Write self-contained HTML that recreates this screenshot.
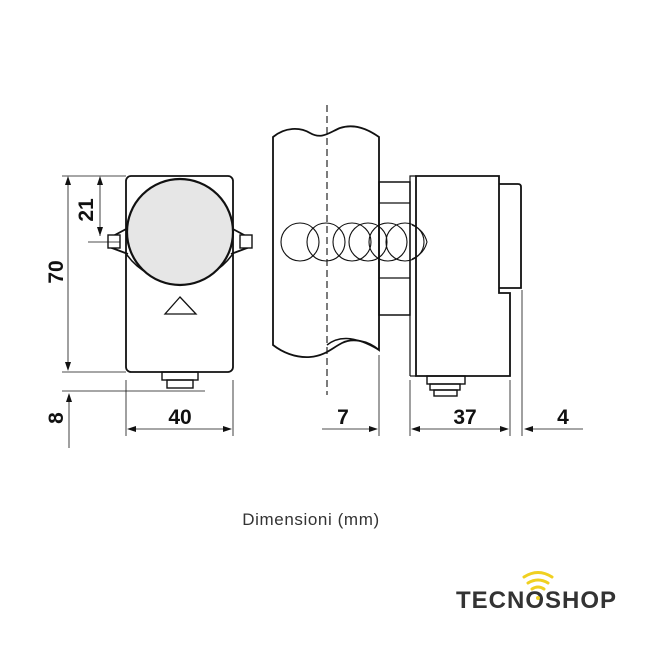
<!DOCTYPE html>
<html><head><meta charset="utf-8"><style>
html,body{margin:0;padding:0;background:#fff;}
svg{display:block}
</style></head><body>
<svg width="650" height="650" viewBox="0 0 650 650" xmlns="http://www.w3.org/2000/svg" font-family="Liberation Sans, sans-serif">
<g fill="none" stroke="#111" stroke-width="1.8">
  <rect x="126" y="176" width="107" height="196" rx="5" fill="#fff"/>
  <path d="M128 228 L115 235 L112 248 L128 254"/>
  <path d="M231 228 L244 235 L247 248 L231 254"/>
  <rect x="108" y="235" width="12" height="13" stroke-width="1.4" fill="#fff"/>
  <rect x="240" y="235" width="12" height="13" stroke-width="1.4" fill="#fff"/>
  <path d="M127 255 A65 65 0 0 0 232 255" stroke-width="1.5"/>
  <circle cx="180" cy="232" r="53" fill="#e6e6e6" stroke-width="2.2"/>
  <polygon points="180,297 165,314 196,314" stroke-width="1.3" fill="#fff"/>
  <rect x="162" y="372" width="36" height="8" stroke-width="1.4"/>
  <rect x="167" y="380" width="26" height="8" stroke-width="1.4"/>
</g>
<g fill="none" stroke="#111" stroke-width="0.8">
  <line x1="62" y1="176" x2="126" y2="176"/>
  <line x1="88" y1="242" x2="120" y2="242"/>
  <line x1="62" y1="372" x2="126" y2="372"/>
  <line x1="62" y1="391" x2="205" y2="391"/>
  <line x1="126" y1="380" x2="126" y2="436"/>
  <line x1="233" y1="380" x2="233" y2="436"/>
  <line x1="68" y1="182" x2="68" y2="366"/>
  <line x1="100" y1="182" x2="100" y2="236"/>
  <line x1="69" y1="399" x2="69" y2="448"/>
  <line x1="132" y1="429" x2="227" y2="429"/>
  <line x1="379" y1="355" x2="379" y2="436"/>
  <line x1="410" y1="380" x2="410" y2="436"/>
  <line x1="510" y1="380" x2="510" y2="436"/>
  <line x1="522" y1="290" x2="522" y2="436"/>
  <line x1="322" y1="429" x2="372" y2="429"/>
  <line x1="416" y1="429" x2="504" y2="429"/>
  <line x1="530" y1="429" x2="583" y2="429"/>
</g>
<g fill="#111">
  <polygon points="68,176 65,185 71,185"/>
  <polygon points="68,371 65,362 71,362"/>
  <polygon points="100,176 97,185 103,185"/>
  <polygon points="100,236 97,227 103,227"/>
  <polygon points="69,393 66,402 72,402"/>
  <polygon points="127,429 136,426 136,432"/>
  <polygon points="232,429 223,426 223,432"/>
  <polygon points="378,429 369,426 369,432"/>
  <polygon points="411,429 420,426 420,432"/>
  <polygon points="509,429 500,426 500,432"/>
  <polygon points="524,429 533,426 533,432"/>
</g>
<g fill="#111" font-weight="bold" font-size="21">
  <text x="180" y="424" text-anchor="middle">40</text>
  <text x="343" y="424" text-anchor="middle">7</text>
  <text x="465" y="424" text-anchor="middle">37</text>
  <text x="563" y="424" text-anchor="middle">4</text>
  <text transform="translate(63,272) rotate(-90)" text-anchor="middle">70</text>
  <text transform="translate(93,210) rotate(-90)" text-anchor="middle">21</text>
  <text transform="translate(63,418) rotate(-90)" text-anchor="middle">8</text>
</g>
<g fill="none" stroke="#111" stroke-width="1.8">
  <path d="M273 137 C285 127 300 127 310 133 C322 140 330 132 340 128 C352 124 365 127 379 137 L379 350 C367 340 352 338 342 343 C332 348 325 356 310 357 C295 358 282 352 273 345 Z" fill="#fff"/>
  <path d="M327 345 C337 337 352 334 379 350" stroke-width="1.5"/>
  <rect x="379" y="182" width="31" height="133" stroke-width="1.5"/>
  <line x1="379" y1="203" x2="410" y2="203" stroke-width="1.2"/>
  <line x1="379" y1="278" x2="410" y2="278" stroke-width="1.2"/>
  <path d="M410 376 L410 176 L416 176" stroke-width="1.2"/>
  <path d="M416 376 L416 176 L499 176 L499 293 L510 293 L510 376 Z" fill="#fff"/>
  <path d="M410 376 L416 376" stroke-width="1.2"/>
  <path d="M499 184 L518 184 Q521 184 521 187 L521 288 L499 288" />
  <rect x="427" y="376" width="38" height="8" stroke-width="1.4"/>
  <rect x="430" y="384" width="30" height="6" stroke-width="1.4"/>
  <rect x="434" y="390" width="23" height="6" stroke-width="1.4"/>
</g>
<g fill="none" stroke="#111" stroke-width="1.1">
  <circle cx="300" cy="242" r="19"/>
  <circle cx="326" cy="242" r="19"/>
  <circle cx="352" cy="242" r="19"/>
  <circle cx="368" cy="242" r="19"/>
  <circle cx="388" cy="242" r="19"/>
  <circle cx="405" cy="242" r="19"/>
  <path d="M412 225 Q424 230 427 242 Q424 254 412 259"/>
  <line x1="327" y1="105" x2="327" y2="395" stroke-dasharray="7,4"/>
</g>
<text x="311" y="525" text-anchor="middle" font-size="17" fill="#333" letter-spacing="0.6">Dimensioni (mm)</text>
<g fill="none" stroke="#f0d020" stroke-width="3" stroke-linecap="round">
  <path d="M524 577 Q538 568 552 577"/>
  <path d="M528 583 Q538 577 548 583"/>
  <path d="M532 589 Q538 585 544 589"/>
</g>
<text x="456" y="608" font-size="24" font-weight="bold" fill="#333" letter-spacing="1">TECNOSHOP</text>
<circle cx="538" cy="598" r="2" fill="#f0d020"/>
</svg>
</body></html>
